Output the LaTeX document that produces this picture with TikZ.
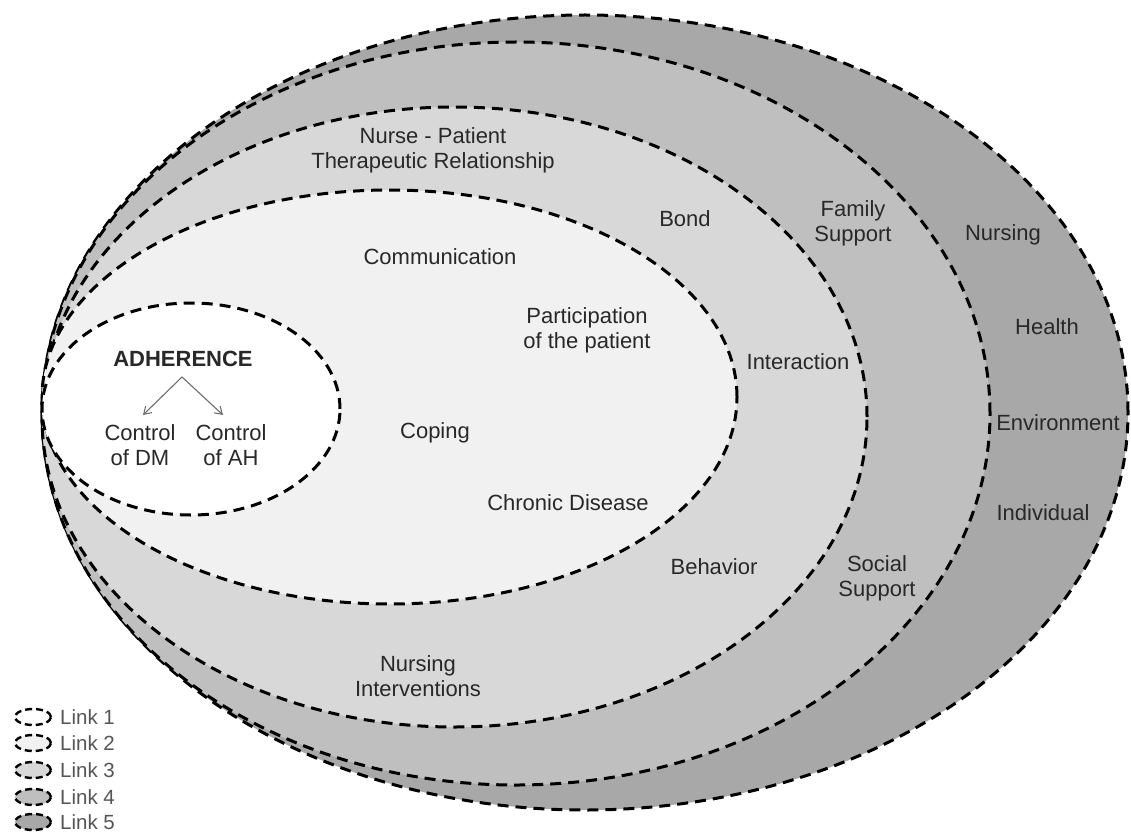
\documentclass[tikz,border=0pt]{standalone}
\usepackage{fontspec}
\setmainfont{Liberation Sans}
\usetikzlibrary{arrows.meta}
\definecolor{cfive}{RGB}{168,168,168}
\definecolor{cfour}{RGB}{191,191,191}
\definecolor{cthree}{RGB}{216,216,216}
\definecolor{ctwo}{RGB}{241,241,241}
\definecolor{cone}{RGB}{255,255,255}
\definecolor{txt}{RGB}{40,40,40}
\definecolor{legtxt}{RGB}{85,85,85}
\definecolor{arrgray}{RGB}{110,110,110}
\begin{document}
\begin{tikzpicture}[x=1pt,y=-1pt,
  ring/.style={draw=black, line width=3pt, dash pattern=on 11pt off 7pt},
  lbl/.style={text=txt, font=\fontsize{22}{25}\selectfont, inner sep=0pt, align=center},
  boldlbl/.style={text=txt, font=\fontsize{22}{25}\selectfont\bfseries, inner sep=0pt},
  arr/.style={draw=arrgray, line width=1.1pt, -{Straight Barb[length=7pt,width=9pt]}},
  legicon/.style={draw=black, line width=2.4pt, dash pattern=on 7pt off 4pt},
  legtext/.style={text=legtxt, font=\fontsize{20.5}{22}\selectfont, inner sep=0pt, anchor=west}]
\useasboundingbox (0,0) rectangle (1131,832);
\fill[white] (0,0) rectangle (1131,832);
% nested rings
\draw[ring, fill=cfive]  (585,412.5) ellipse [x radius=543pt, y radius=397.5pt];
\draw[ring, fill=cfour]  (516,413.5) ellipse [x radius=474pt, y radius=371.5pt];
\draw[ring, fill=cthree] (454.5,417) ellipse [x radius=412.5pt, y radius=310pt];
\draw[ring, fill=ctwo]   (389.5,397) ellipse [x radius=347.5pt, y radius=207pt];
\draw[ring, fill=cone]   (191,409) ellipse [x radius=149pt, y radius=106pt];
% labels
\node[lbl] (np) at (433,150.5) {Nurse - Patient\\Therapeutic Relationship};
\node[lbl] (bond) at (685,219) {Bond};
\node[lbl] (comm) at (440,257) {Communication};
\node[lbl] (part) at (587,330.5) {Participation\\of the patient};
\node[lbl] (coping) at (435,433) {Coping};
\node[lbl] (chronic) at (568,503) {Chronic Disease};
\node[lbl] (inter) at (798,362) {Interaction};
\node[lbl] (family) at (853,223) {Family\\Support};
\node[lbl] (nursing) at (1003,235) {Nursing};
\node[lbl] (health) at (1047,327) {Health};
\node[lbl] (env) at (1058,423) {Environment};
\node[lbl] (indiv) at (1043,513) {Individual};
\node[lbl] (social) at (877,578) {Social\\Support};
\node[lbl] (behavior) at (714,567) {Behavior};
\node[lbl] (nint) at (418,676) {Nursing\\Interventions};
\node[boldlbl] (adh) at (183,359) {ADHERENCE};
\node[lbl] (cdm) at (140,445) {Control\\of DM};
\node[lbl] (cah) at (231,445) {Control\\of AH};
\coordinate (apex) at (182,377);
\coordinate (tipL) at (143,415);
\coordinate (tipR) at (223,415);
\draw[arr] (apex) -- (tipL);
\draw[arr] (apex) -- (tipR);
% legend
\draw[legicon, fill=cone]   (33,717) ellipse [x radius=18pt, y radius=8pt];
\draw[legicon, fill=ctwo]   (33,743) ellipse [x radius=18pt, y radius=8pt];
\draw[legicon, fill=cthree] (33,770) ellipse [x radius=18pt, y radius=8pt];
\draw[legicon, fill=cfour]  (33,797) ellipse [x radius=18pt, y radius=8pt];
\draw[legicon, fill=cfive]  (33,822) ellipse [x radius=18pt, y radius=8pt];
\node[legtext] (l1) at (60,717) {Link 1};
\node[legtext] (l2) at (60,743) {Link 2};
\node[legtext] (l3) at (60,770) {Link 3};
\node[legtext] (l4) at (60,797) {Link 4};
\node[legtext] (l5) at (60,822) {Link 5};
\end{tikzpicture}
\end{document}
